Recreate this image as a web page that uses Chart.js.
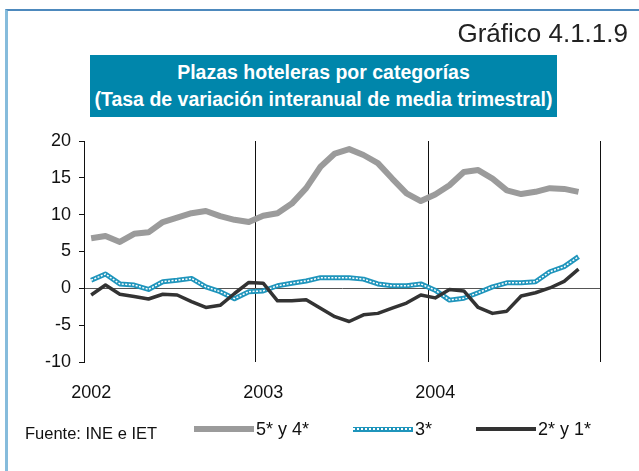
<!DOCTYPE html>
<html lang="es">
<head>
<meta charset="utf-8">
<title>Gráfico 4.1.1.9</title>
<script src="https://cdn.jsdelivr.net/npm/chart.js@4.4.1/dist/chart.umd.min.js"></script>
<style>
  html, body { margin: 0; padding: 0; background: #fff; }
  body { width: 639px; height: 471px; position: relative; overflow: hidden;
         font-family: Arial, "Liberation Sans", Helvetica, sans-serif; color: #111; }
  #marco { position: absolute; left: 5px; top: 9px; width: 700px; height: 500px;
           border-top: 2px solid #4d89bd; border-left: 3px solid #86bcdc; }
  #grafico { position: absolute; left: 0; top: 0; }
  #numero { position: absolute; right: 11px; top: 17px; font-size: 26px; line-height: 32px; color: #222; }
  #titulo { position: absolute; left: 90px; top: 55px; width: 467px; height: 62px;
            box-sizing: border-box; padding-top: 4px; background: #0086ab; color: #fff;
            font-weight: bold; font-size: 19.5px; line-height: 27px; text-align: center; }
  #fuente { position: absolute; left: 25px; top: 423px; font-size: 16.5px; line-height: 20px; color: #111; }
  #leyenda { position: absolute; left: 194px; top: 418px; height: 22px; display: flex; align-items: center;
             font-size: 18px; color: #111; }
  .item { display: flex; align-items: center; margin-right: 44px; }
  .muestra { width: 60px; position: relative; margin-right: 2px; }
  .muestra i { position: absolute; left: 0; right: 0; top: 50%; height: 2px; margin-top: -1px;
               background: repeating-linear-gradient(90deg, #fff 0 2px, transparent 2px 4px); }
</style>
</head>
<body>
<div id="marco"></div>
<canvas id="grafico" width="639" height="471"></canvas>
<div id="numero">Gráfico 4.1.1.9</div>
<div id="titulo">Plazas hoteleras por categorías<br>(Tasa de variación interanual de media trimestral)</div>
<div id="fuente">Fuente: INE e IET</div>
<div id="leyenda"></div>
<script>
const anios = ['2002', '2003', '2004'];
const meses = ['ene', 'feb', 'mar', 'abr', 'may', 'jun', 'jul', 'ago', 'sep', 'oct', 'nov', 'dic'];
const categorias = anios.flatMap(a => meses.map(m => m + ' ' + a));

// tasa de variación interanual (%), enero 2002 - noviembre 2004
const plazas54 = [6.8, 7.1, 6.3, 7.4, 7.6, 9.0, 9.6, 10.2, 10.5, 9.8, 9.3, 9.0,
  9.85, 10.2, 11.5, 13.6, 16.5, 18.3, 18.9, 18.1, 17.0, 14.9, 12.9, 11.85,
  12.75, 14.0, 15.8, 16.05, 14.9, 13.3, 12.8, 13.1, 13.6, 13.5, 13.1];
const plazas3 = [1.1, 1.95, 0.6, 0.45, -0.15, 0.9, 1.1, 1.35, 0.2, -0.45, -1.4, -0.45,
  -0.35, 0.35, 0.7, 1.0, 1.45, 1.45, 1.45, 1.25, 0.6, 0.35, 0.35, 0.6,
  -0.25, -1.6, -1.35, -0.6, 0.2, 0.75, 0.75, 0.9, 2.25, 2.95, 4.3];
const plazas21 = [-0.9, 0.45, -0.8, -1.1, -1.45, -0.8, -0.9, -1.8, -2.6, -2.3, -0.7, 0.8,
  0.7, -1.7, -1.7, -1.55, -2.7, -3.85, -4.5, -3.6, -3.4, -2.7, -2.0, -0.9,
  -1.3, -0.15, -0.35, -2.6, -3.4, -3.1, -1.05, -0.6, 0.05, 0.95, 2.6];

const colorGris = '#9b9b9b';
const colorAzul = '#1f95bc';
const colorNegro = '#333333';

const ctx = document.getElementById('grafico').getContext('2d');
const grafico = new Chart(ctx, {
    type: 'line',
    data: {
        labels: categorias,
        datasets: [
            { label: '5* y 4*', data: plazas54, borderColor: colorGris, borderWidth: 6, order: 4 },
            { label: '3*', data: plazas3, borderColor: colorAzul, borderWidth: 5, order: 3 },
            { label: '2* y 1*', data: plazas21, borderColor: colorNegro, borderWidth: 3.5, order: 1 },
            // punteado blanco dentro de la serie 3*
            { label: '', data: plazas3, borderColor: '#ffffff', borderWidth: 1.5, borderDash: [2, 1.5], order: 2 }
        ]
    },
    options: {
        responsive: false,
        animation: false,
        layout: { padding: { top: 141, right: 39, bottom: 0, left: 0 } },
        elements: {
            point: { radius: 0 },
            line: { tension: 0, fill: false, borderCapStyle: 'butt', borderJoinStyle: 'round' }
        },
        plugins: {
            legend: { display: false },
            tooltip: { enabled: false }
        },
        scales: {
            x: {
                offset: true,
                border: { display: false },
                grid: {
                    offset: true,
                    drawTicks: false,
                    color: c => (c.type !== 'tick' || c.index % 12 === 0) ? '#111' : 'rgba(0,0,0,0)',
                    lineWidth: 1
                },
                ticks: {
                    autoSkip: false,
                    maxRotation: 0,
                    padding: 20,
                    color: '#111',
                    font: { family: 'Arial, "Liberation Sans", sans-serif', size: 18 },
                    callback: (v, i) => i % 12 === 0 ? anios[i / 12] : ''
                },
                afterFit: s => { s.height = 109; }
            },
            y: {
                min: -10,
                max: 20,
                border: { color: '#111', width: 1 },
                grid: {
                    color: c => c.tick && c.tick.value === 0 ? '#555' : 'rgba(0,0,0,0)',
                    tickColor: '#111',
                    tickLength: 5
                },
                ticks: {
                    stepSize: 5,
                    padding: 8,
                    color: '#111',
                    font: { family: 'Arial, "Liberation Sans", sans-serif', size: 18 }
                },
                afterFit: s => { s.width = 84; }
            }
        }
    }
});

// leyenda en HTML a partir de las series
const leyenda = document.getElementById('leyenda');
grafico.data.datasets.filter(d => d.label).forEach(d => {
    const item = document.createElement('div');
    item.className = 'item';
    const muestra = document.createElement('span');
    muestra.className = 'muestra';
    muestra.style.height = d.borderWidth + 'px';
    muestra.style.background = d.borderColor;
    if (d.label === '3*') muestra.appendChild(document.createElement('i'));
    const texto = document.createElement('span');
    texto.textContent = d.label;
    item.appendChild(muestra);
    item.appendChild(texto);
    leyenda.appendChild(item);
});
</script>
</body>
</html>
